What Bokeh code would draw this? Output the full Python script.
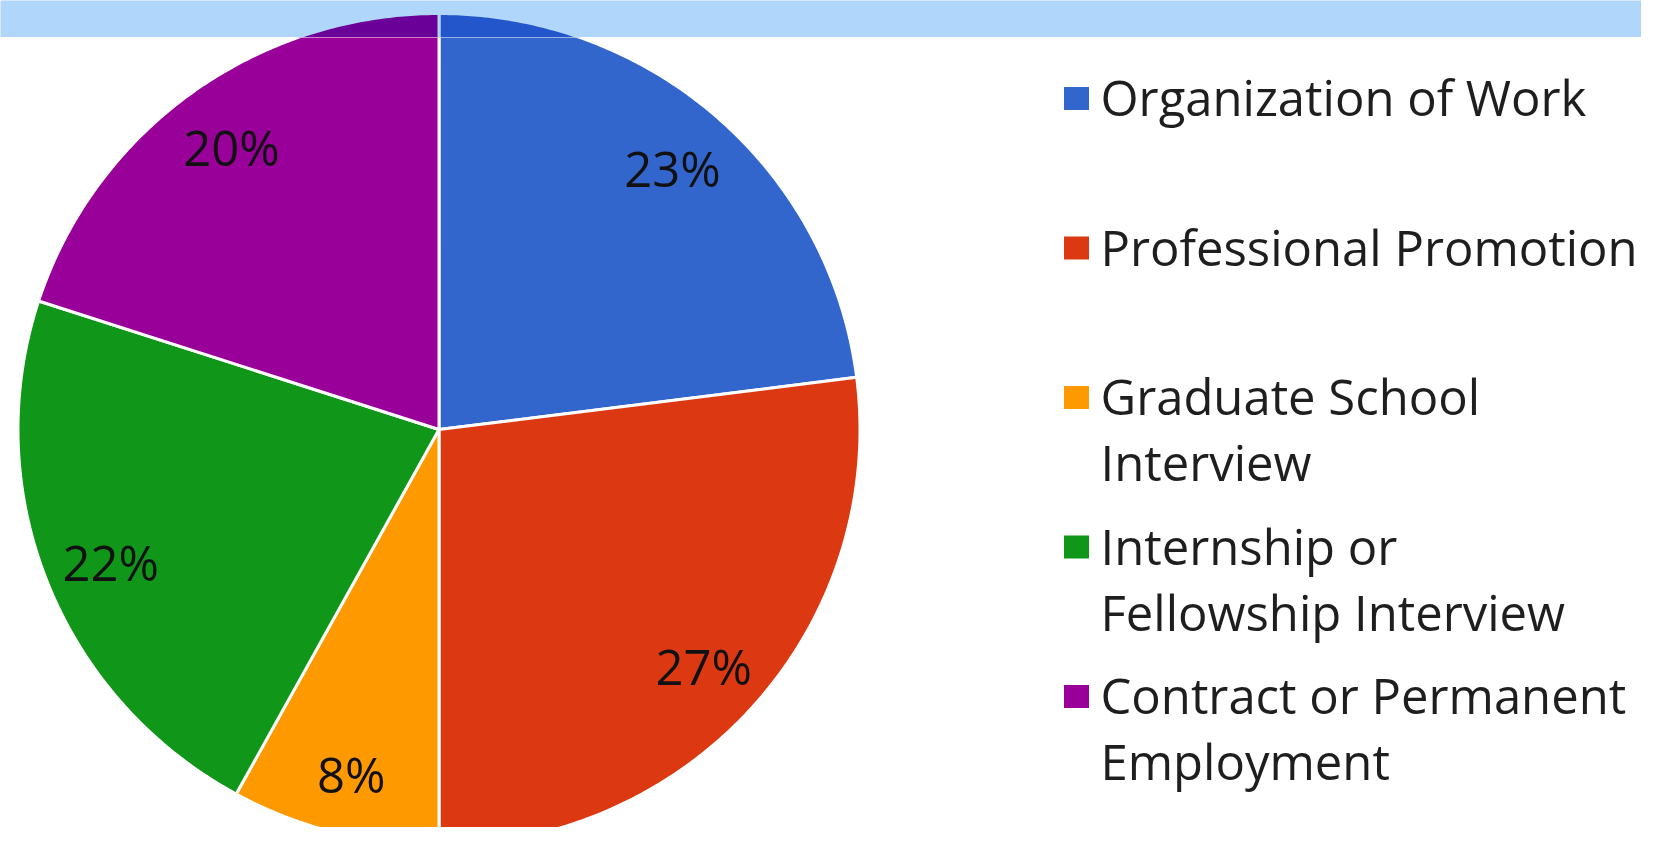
import numpy as np
from bokeh.plotting import figure
from bokeh.layouts import column
from bokeh.models import Range1d, ColumnDataSource
from bokeh.core.properties import value
from bokeh.embed import file_html
from bokeh.resources import INLINE

# ---- data ----
categories = ["Organization of Work", "Professional Promotion",
              "Graduate School Interview", "Internship or Fellowship Interview",
              "Contract or Permanent Employment"]
legend_lines = [["Organization of Work"], ["Professional Promotion"],
                ["Graduate School", "Interview"],
                ["Internship or", "Fellowship Interview"],
                ["Contract or Permanent", "Employment"]]
shares = [23, 27, 8, 22, 20]
colors = ["#3366cc", "#dc3912", "#ff9900", "#109618", "#990099"]

# ---- style / layout (screen pixels, y measured downward -> data y = -py) ----
BAND = "#b0d6fc"
FONT = "Open Sans"
W, H, BAND_H = 1641, 827, 37
CX, CY = 438.5, -429.0
RX, RY = 421.0, 416.0
LABEL_R = 353.0


def multiply(c1, c2):
    a = [int(c1[i:i + 2], 16) for i in (1, 3, 5)]
    b = [int(c2[i:i + 2], 16) for i in (1, 3, 5)]
    return "#" + "".join("%02x" % round(x * y / 255) for x, y in zip(a, b))


frac = np.array(shares, dtype=float) / sum(shares)
cum = np.concatenate([[0.0], np.cumsum(frac)])
start = np.pi / 2 - 2 * np.pi * cum[:-1]
end = np.pi / 2 - 2 * np.pi * cum[1:]
mid = (start + end) / 2

xs, ys = [], []
for a0, a1 in zip(start, end):
    t = np.linspace(a0, a1, max(8, int(abs(a1 - a0) * 120)))
    xs.append(np.concatenate([[CX], CX + RX * np.cos(t)]))
    ys.append(np.concatenate([[CY], CY + RY * np.sin(t)]))

src = ColumnDataSource(dict(xs=xs, ys=ys, color=colors,
                            dark=[multiply(c, BAND) for c in colors]))


def make_fig(height, y0, y1):
    p = figure(width=W, height=height, x_range=Range1d(0, W),
               y_range=Range1d(y0, y1), output_backend="svg",
               toolbar_location=None, min_border=0)
    p.axis.visible = False
    p.grid.visible = False
    p.outline_line_color = None
    return p


# top band (pie seen through a light-blue multiply band)
top = make_fig(BAND_H, -BAND_H, 0)
top.background_fill_color = BAND
top.border_fill_color = BAND
top.patches(xs="xs", ys="ys", fill_color="dark", line_color=BAND,
            line_width=3, line_join="round", source=src)

# main chart
main = make_fig(H - BAND_H, -H, -BAND_H)
main.background_fill_color = "white"
main.border_fill_color = "white"
main.patches(xs="xs", ys="ys", fill_color="color", line_color="white",
             line_width=3, line_join="round", source=src)

# percentage labels
main.text(x=CX + LABEL_R * np.cos(mid), y=CY + LABEL_R * np.sin(mid) - 3,
          text=["%d%%" % s for s in shares],
          text_font=value(FONT), text_font_size=value("49px"),
          text_color="#111111", text_align="center", text_baseline="middle")

# legend
sq_y = [98 + 149.5 * i for i in range(len(categories))]
main.rect(x=[1076] * len(categories), y=[-v for v in sq_y],
          width=25, height=23, fill_color=colors, line_color=None)
tx, ty, tt = [], [], []
for i, lines in enumerate(legend_lines):
    for k, line in enumerate(lines):
        tx.append(1100)
        ty.append(-(sq_y[i] - 1.5 + 66 * k))
        tt.append(line)
main.text(x=tx, y=ty, text=tt, text_font=value(FONT),
          text_font_size=value("49px"), text_color="#1e1e1e",
          text_align="left", text_baseline="middle")

layout = column(top, main, spacing=0)
open("out.html", "w").write(file_html(layout, INLINE))
